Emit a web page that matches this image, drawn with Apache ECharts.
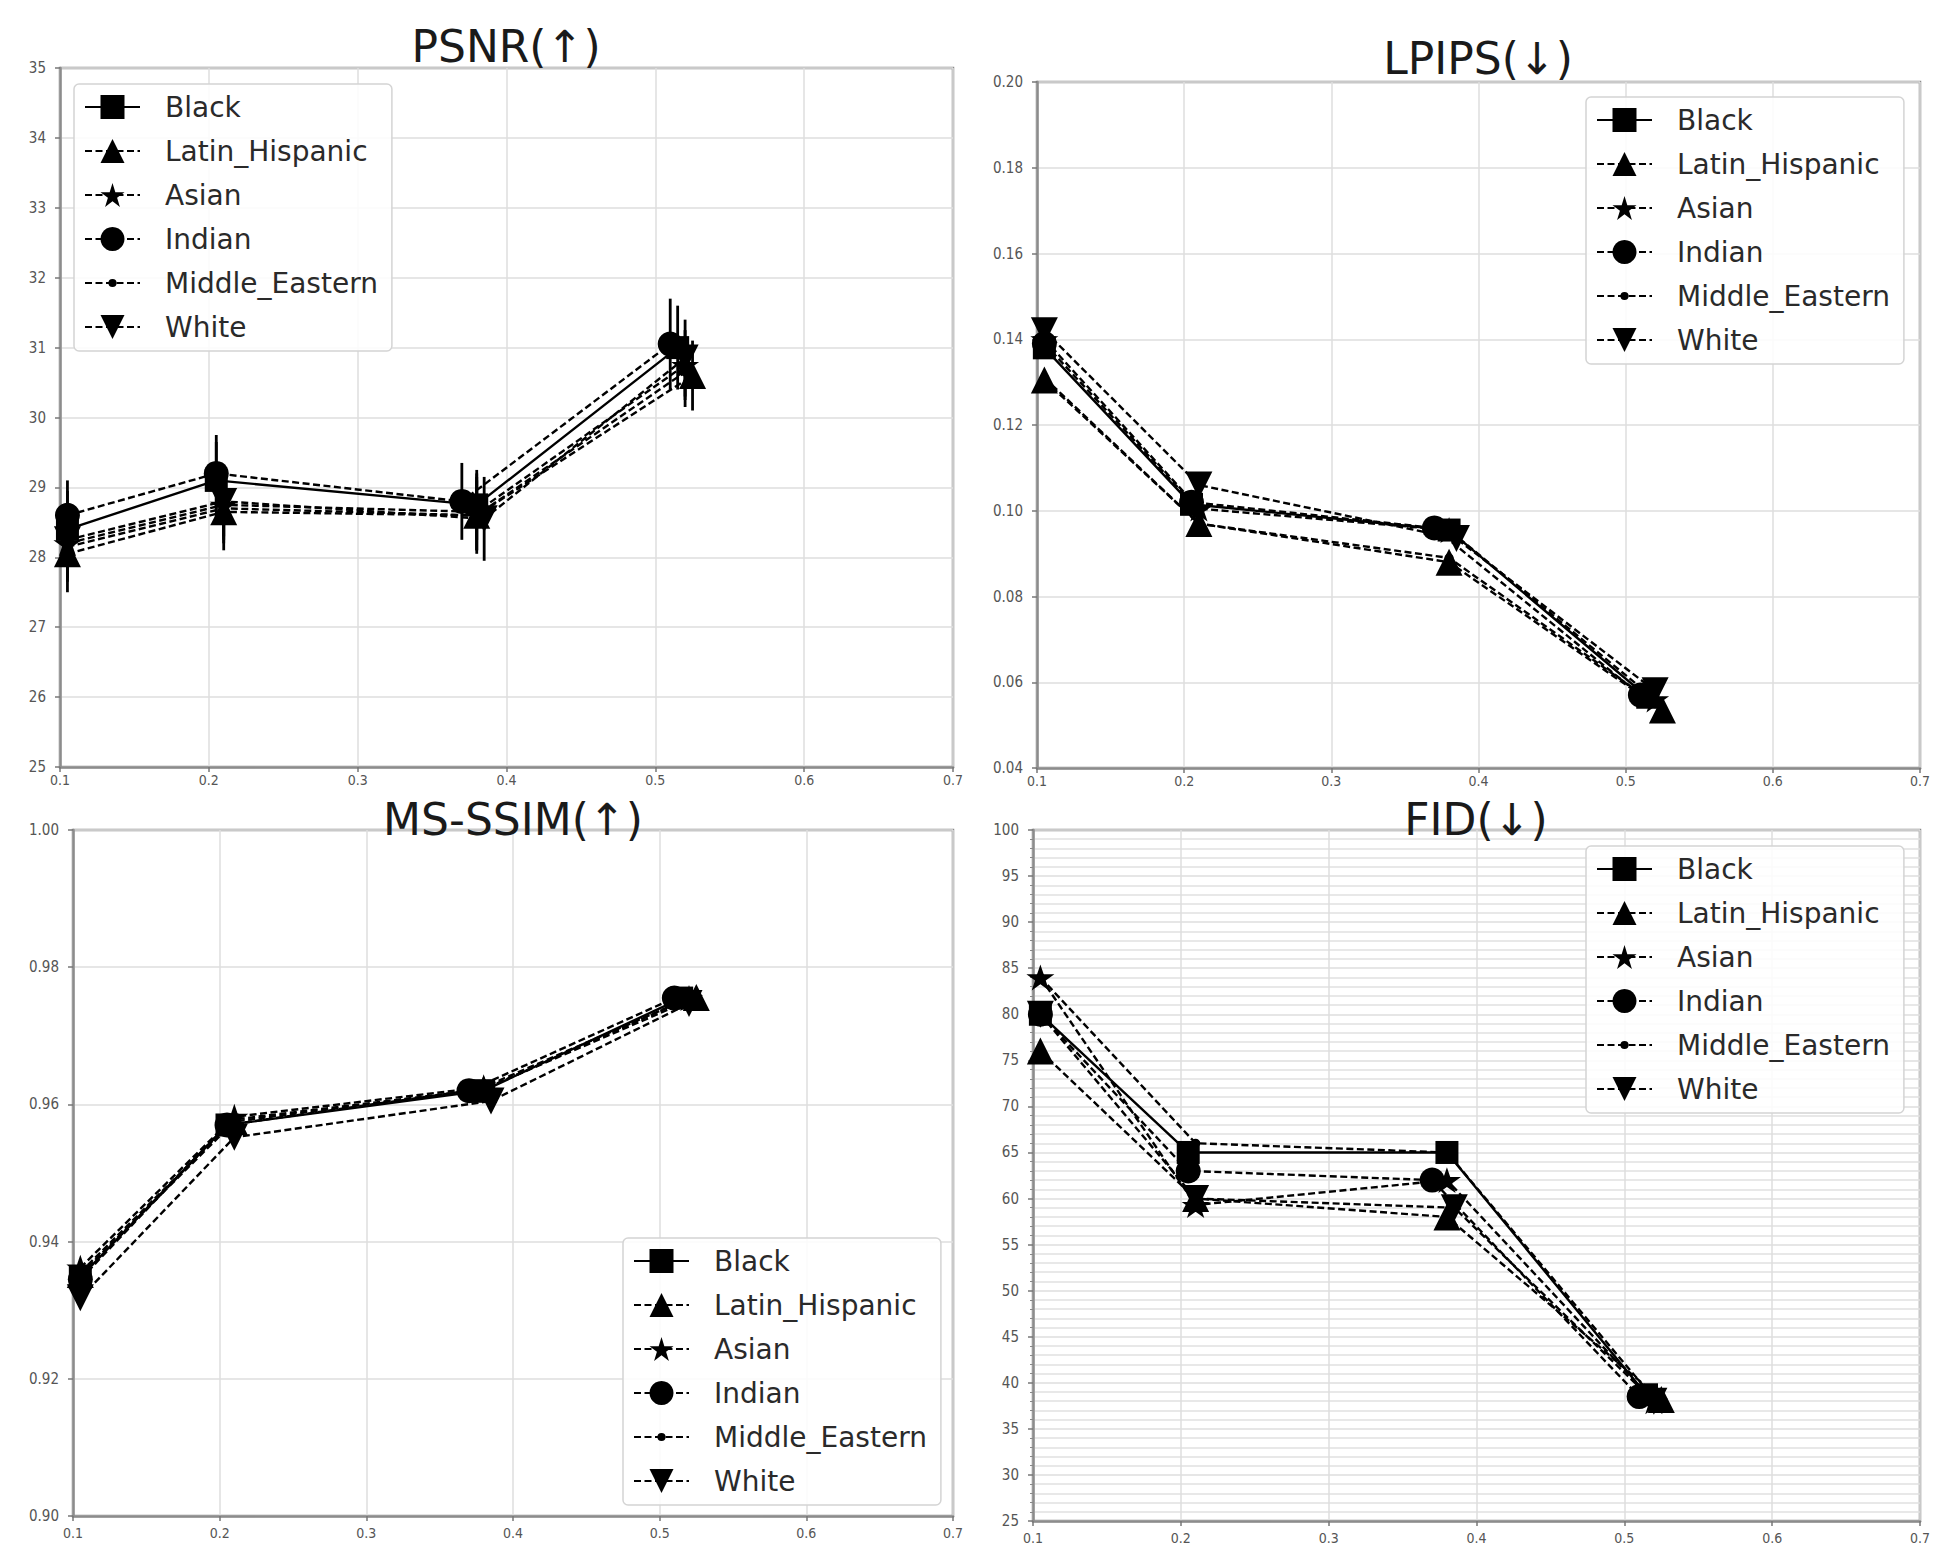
<!DOCTYPE html>
<html>
<head>
<meta charset="utf-8">
<script src="https://cdn.jsdelivr.net/npm/echarts@6/dist/echarts.min.js"></script>
<style>
html,body{margin:0;padding:0;background:#fff;}
#c{width:1946px;height:1560px;}
</style>
</head>
<body>
<div id="c"></div>
<script>
// ---------------- data ----------------
const groups = ['Black', 'Latin_Hispanic', 'Asian', 'Indian', 'Middle_Eastern', 'White'];
const xTickLabels = ['0.1', '0.2', '0.3', '0.4', '0.5', '0.6', '0.7'];

// bpp (x) positions of each group
const xBlack  = [0.105, 0.205, 0.380, 0.515];
const xLatin  = [0.105, 0.210, 0.380, 0.525];
const xAsian  = [0.105, 0.210, 0.380, 0.520];
const xIndian = [0.105, 0.205, 0.370, 0.510];
const xME     = [0.105, 0.210, 0.380, 0.520];
const xWhite  = [0.105, 0.210, 0.385, 0.520];

// PSNR
const psnrBlack  = [28.40, 29.10, 28.75, 31.00];
const psnrLatin  = [28.05, 28.65, 28.60, 30.60];
const psnrAsian  = [28.20, 28.75, 28.65, 30.75];
const psnrIndian = [28.60, 29.20, 28.80, 31.05];
const psnrME     = [28.15, 28.70, 28.60, 30.65];
const psnrWhite  = [28.25, 28.80, 28.55, 30.85];
// PSNR error-bar half widths
const psnrErrBlack  = [0.55, 0.55, 0.50, 0.60];
const psnrErrLatin  = [0.55, 0.55, 0.55, 0.50];
const psnrErrAsian  = [0.50, 0.50, 0.55, 0.50];
const psnrErrIndian = [0.50, 0.55, 0.55, 0.65];
const psnrErrME     = [0.50, 0.50, 0.50, 0.50];
const psnrErrWhite  = [0.50, 0.50, 0.60, 0.55];

// LPIPS
const lpipsBlack  = [0.1380, 0.1015, 0.0955, 0.0565];
const lpipsLatin  = [0.1305, 0.0970, 0.0880, 0.0535];
const lpipsAsian  = [0.1400, 0.1005, 0.0955, 0.0560];
const lpipsIndian = [0.1390, 0.1020, 0.0960, 0.0570];
const lpipsME     = [0.1310, 0.0970, 0.0890, 0.0550];
const lpipsWhite  = [0.1420, 0.1060, 0.0935, 0.0580];

// MS-SSIM
const ssimBlack  = [0.9348, 0.9570, 0.9620, 0.9755];
const ssimLatin  = [0.9352, 0.9575, 0.9622, 0.9756];
const ssimAsian  = [0.9362, 0.9582, 0.9625, 0.9755];
const ssimIndian = [0.9345, 0.9570, 0.9620, 0.9755];
const ssimME     = [0.9355, 0.9578, 0.9622, 0.9755];
const ssimWhite  = [0.9318, 0.9552, 0.9605, 0.9747];

// FID
const fidBlack  = [80.0, 65.0, 65.0, 38.7];
const fidLatin  = [76.0, 60.0, 58.0, 38.2];
const fidAsian  = [84.0, 59.3, 62.0, 38.0];
const fidIndian = [80.0, 63.0, 62.0, 38.5];
const fidME     = [84.0, 66.0, 65.0, 38.3];
const fidWhite  = [80.0, 60.0, 59.0, 38.0];

// ---------------- styling ----------------
const xs = [xBlack, xLatin, xAsian, xIndian, xME, xWhite];
const metrics = [
  {title: 'PSNR(\u2191)', vals: [psnrBlack, psnrLatin, psnrAsian, psnrIndian, psnrME, psnrWhite],
   min: 25, max: 35, interval: 1, fmt: v => String(Math.round(v))},
  {title: 'LPIPS(\u2193)', vals: [lpipsBlack, lpipsLatin, lpipsAsian, lpipsIndian, lpipsME, lpipsWhite],
   min: 0.04, max: 0.20, interval: 0.02, fmt: v => v.toFixed(2)},
  {title: 'MS-SSIM(\u2191)', vals: [ssimBlack, ssimLatin, ssimAsian, ssimIndian, ssimME, ssimWhite],
   min: 0.90, max: 1.00, interval: 0.02, fmt: v => v.toFixed(2)},
  {title: 'FID(\u2193)', vals: [fidBlack, fidLatin, fidAsian, fidIndian, fidME, fidWhite],
   min: 25, max: 100, interval: 5, fmt: v => String(Math.round(v)), minor: true}
];
const psnrErr = [psnrErrBlack, psnrErrLatin, psnrErrAsian, psnrErrIndian, psnrErrME, psnrErrWhite];

const grids = [
  {left: 60, top: 68, width: 893, height: 699},
  {left: 1037, top: 82, width: 883, height: 686},
  {left: 73, top: 830, width: 880, height: 686},
  {left: 1033, top: 830, width: 887, height: 691}
];
const titlePos = [{x: 506, y: 24}, {x: 1478, y: 36}, {x: 513, y: 797}, {x: 1476, y: 797}];
const legendPos = [{left: 74, top: 84}, {left: 1586, top: 97}, {left: 623, top: 1238}, {left: 1586, top: 846}];
const xLabelMargin = [6, 6, 10, 10];

const STAR = 'path://M50,0 L61.8,35.4 L100,35.4 L69.1,57.3 L80.9,92.7 L50,70.8 L19.1,92.7 L30.9,57.3 L0,35.4 L38.2,35.4 Z';
const DOT = 'path://M0,0 Z M100,100 Z M50,33 A17,17 0 1 1 50,67 A17,17 0 1 1 50,33 Z';
const markers = [
  {symbol: 'rect', size: 23, rot: 0, dash: false},
  {symbol: 'triangle', size: 27, rot: 0, dash: true},
  {symbol: STAR, size: 28, rot: 0, dash: true},
  {symbol: 'circle', size: 25, rot: 0, dash: true},
  {symbol: DOT, size: 27, rot: 0, dash: true},
  {symbol: 'triangle', size: 27, rot: 180, dash: true}
];

const tickFont = "'DejaVu Sans Condensed','DejaVu Sans',sans-serif";
const gray = '#8c8c8c';

const xAxes = [], yAxes = [], series = [], titles = [], legends = [];
metrics.forEach((m, i) => {
  xAxes.push({
    type: 'value', gridIndex: i, min: 0.1, max: 0.7, interval: 0.1,
    axisLine: {show: true, onZero: false, lineStyle: {color: gray, width: 2.5}},
    axisTick: {show: true, length: 5, lineStyle: {color: '#777', width: 1.5}},
    axisLabel: {margin: xLabelMargin[i], fontSize: 14, color: '#555', fontFamily: tickFont,
      formatter: v => xTickLabels[Math.round((v - 0.1) * 10)]},
    splitLine: {show: true, lineStyle: {color: '#dedede', width: 1.5}}
  });
  yAxes.push({
    type: 'value', gridIndex: i, min: m.min, max: m.max, interval: m.interval,
    axisLine: {show: true, onZero: false, lineStyle: {color: gray, width: 2.5}},
    axisTick: {show: true, length: 5, lineStyle: {color: '#777', width: 1.5}},
    minorTick: {show: !!m.minor, splitNumber: 5, length: 3, lineStyle: {color: '#888', width: 1}},
    minorSplitLine: {show: !!m.minor, lineStyle: {color: '#e0e0e0', width: 1.5}},
    axisLabel: {margin: 14, fontSize: 15, color: '#555', fontFamily: tickFont, formatter: m.fmt},
    splitLine: {show: true, lineStyle: {color: '#dedede', width: 1.5}}
  });
  titles.push({
    text: m.title, left: titlePos[i].x, top: titlePos[i].y, textAlign: 'center', padding: 0,
    textStyle: {fontSize: 44, fontWeight: 'normal', color: '#1a1a1a', fontFamily: "'DejaVu Sans',sans-serif"}
  });
  legends.push({
    orient: 'vertical', left: legendPos[i].left, top: legendPos[i].top,
    data: groups, itemWidth: 55, itemHeight: 30, itemGap: 16,
    backgroundColor: 'rgba(255,255,255,0.85)', borderColor: '#d4d4d4', borderWidth: 1.5, borderRadius: 5,
    padding: [9, 14, 10, 10], selectedMode: false,
    textStyle: {fontSize: 28, color: '#2a2a2a', fontFamily: "'DejaVu Sans',sans-serif", padding: [0, 0, 0, 20]}
  });
  groups.forEach((g, k) => {
    const mk = markers[k];
    series.push({
      type: 'line', name: g, xAxisIndex: i, yAxisIndex: i,
      data: xs[k].map((x, j) => [x, m.vals[k][j]]),
      symbol: mk.symbol, symbolSize: mk.size, symbolRotate: mk.rot, symbolKeepAspect: true,
      showSymbol: true, animation: false, z: 3,
      lineStyle: {color: '#000', width: 2.4, type: mk.dash ? [7, 3.5] : 'solid'},
      itemStyle: {color: '#000', borderWidth: 0}
    });
  });
});

// PSNR error bars
groups.forEach((g, k) => {
  series.push({
    type: 'custom', name: g + ' err', xAxisIndex: 0, yAxisIndex: 0, silent: true, animation: false, z: 2,
    data: xs[k].map((x, j) => [x, metrics[0].vals[k][j] - psnrErr[k][j], metrics[0].vals[k][j] + psnrErr[k][j]]),
    encode: {x: 0, y: [1, 2]},
    renderItem: (params, api) => {
      const p1 = api.coord([api.value(0), api.value(1)]);
      const p2 = api.coord([api.value(0), api.value(2)]);
      return {type: 'line', shape: {x1: p1[0], y1: p1[1], x2: p2[0], y2: p2[1]},
        style: {stroke: '#000', lineWidth: 2.8}};
    }
  });
});

const chart = echarts.init(document.getElementById('c'), null, {renderer: 'svg', width: 1946, height: 1560});
chart.setOption({
  backgroundColor: '#fff',
  animation: false,
  title: titles,
  legend: legends,
  grid: grids.map(g => Object.assign({show: true, borderColor: gray, borderWidth: 2.5, backgroundColor: 'transparent'}, g)),
  xAxis: xAxes,
  yAxis: yAxes,
  series: series
});
</script>
</body>
</html>
